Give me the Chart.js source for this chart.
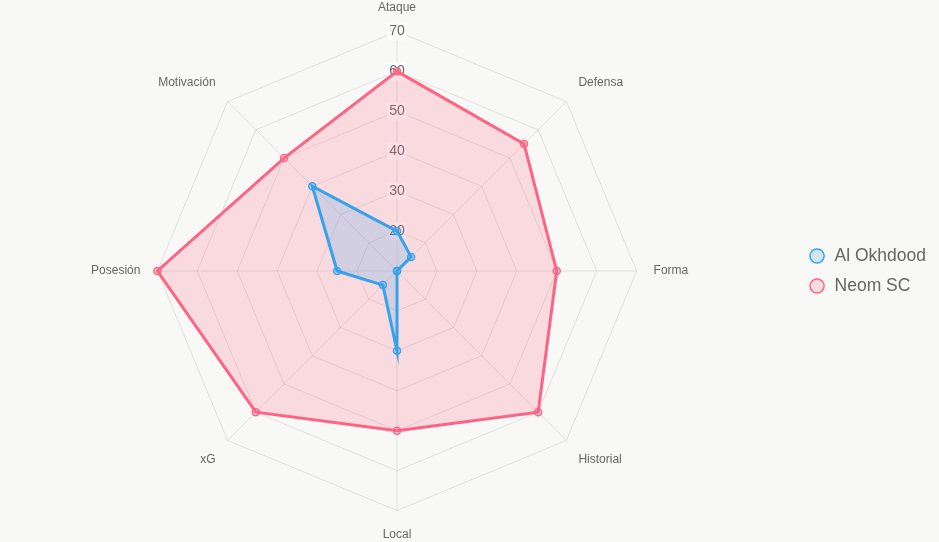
<!DOCTYPE html>
<html>
<head>
<meta charset="utf-8">
<script src="https://cdn.jsdelivr.net/npm/chart.js@4/dist/chart.umd.min.js"></script>
<style>
html,body{margin:0;padding:0;background:#f8f8f7;}
#wrap{width:939px;height:542px;}
</style>
</head>
<body>
<div id="wrap"><canvas id="c" width="939" height="542"></canvas></div>
<script>
const categories = ["Ataque","Defensa","Forma","Historial","Local","xG","Posesión","Motivación"];
const alOkhdood = [20,15,10,10,30,15,25,40];
const neomSC = [60,55,50,60,50,60,70,50];
const seriesNames = ["Al Okhdood","Neom SC"];
const tickMin = 10, tickMax = 70, tickStep = 10;

new Chart(document.getElementById('c'), {
  type: 'radar',
  data: {
    labels: categories,
    datasets: [
      {label: seriesNames[0], data: alOkhdood, borderColor:'#36A2EB', backgroundColor:'rgba(54,162,235,0.2)', borderWidth:3, pointRadius:3.5, pointBorderWidth:1.5, pointBackgroundColor:'rgba(54,162,235,0.2)', pointBorderColor:'#36A2EB'},
      {label: seriesNames[1], data: neomSC, borderColor:'#FF6384', backgroundColor:'rgba(255,99,132,0.2)', borderWidth:3, pointRadius:3.5, pointBorderWidth:1.5, pointBackgroundColor:'rgba(255,99,132,0.2)', pointBorderColor:'#FF6384'}
    ]
  },
  options: {
    responsive:false,
    animation:false,
    layout:{padding:{right:3}},
    plugins:{
      legend:{position:'right', labels:{
        usePointStyle:true, pointStyle:'circle', boxHeight:10, padding:12.5,
        font:{size:17.5}, color:'#666',
        generateLabels(chart){
          const items = Chart.defaults.plugins.legend.labels.generateLabels(chart);
          items.forEach(it=>{ it.lineWidth = 1.5; });
          return items;
        }
      }}
    },
    scales:{
      r:{
        min:tickMin, max:tickMax,
        ticks:{stepSize:tickStep, font:{size:14}, color:'#666'},
        pointLabels:{font:{size:12}, color:'#666', padding:8},
        grid:{color:'rgba(0,0,0,0.1)'},
        angleLines:{color:'rgba(0,0,0,0.1)'}
      }
    }
  }
});
</script>
</body>
</html>
